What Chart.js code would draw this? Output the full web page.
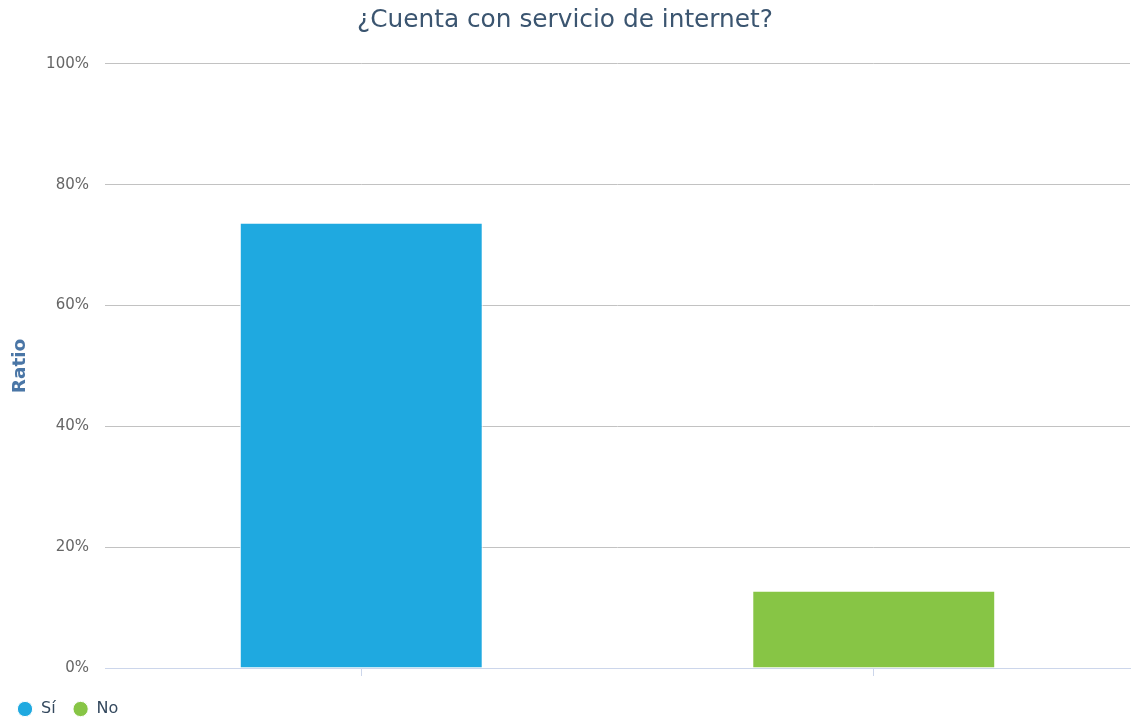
<!DOCTYPE html>
<html>
<head>
<meta charset="utf-8">
<script src="https://cdn.jsdelivr.net/npm/chart.js@4.4.1/dist/chart.umd.min.js"></script>
<style>
  html, body { margin: 0; padding: 0; background: #ffffff; }
  #wrap { position: relative; width: 1132px; height: 719px; }
</style>
</head>
<body>
<div id="wrap"><canvas id="c" width="1132" height="719"></canvas></div>
<script>
const chartTitle = '¿Cuenta con servicio de internet?';
const categories = ['Sí', 'No'];
const siValues = [73.7, null];
const noValues = [null, 12.8];
const yTickValues = [0, 20, 40, 60, 80, 100];
const yAxisTitle = 'Ratio';

const FONT = "'DejaVu Sans', sans-serif";

const ctx = document.getElementById('c').getContext('2d');
new Chart(ctx, {
  type: 'bar',
  data: {
    labels: categories,
    datasets: [
      { label: categories[0], data: siValues, backgroundColor: '#1fa9e0', borderColor: '#ffffff', borderWidth: 1, skipNull: true },
      { label: categories[1], data: noValues, backgroundColor: '#87c545', borderColor: '#ffffff', borderWidth: 1, skipNull: true }
    ]
  },
  options: {
    responsive: false,
    animation: false,
    devicePixelRatio: 1,
    layout: { padding: { left: 0, right: 2, top: 0, bottom: -8 } },
    datasets: { bar: { categoryPercentage: 1, barPercentage: 0.474 } },
    plugins: {
      title: {
        display: true,
        text: chartTitle,
        color: '#3b5570',
        font: { family: FONT, size: 24.8, weight: 'normal' },
        padding: { top: 6, bottom: 28.2 }
      },
      legend: {
        display: true,
        position: 'bottom',
        align: 'start',
        labels: {
          usePointStyle: true,
          pointStyle: 'circle',
          boxWidth: 16,
          boxHeight: 10.8,
          color: '#34495e',
          font: { family: FONT, size: 16 },
          padding: 17
        }
      },
      tooltip: { enabled: false }
    },
    scales: {
      x: {
        grid: {
          offset: false,
          drawOnChartArea: false,
          drawTicks: true,
          tickLength: 8,
          color: '#ccd6eb'
        },
        border: { display: true, color: '#ccd6eb', width: 1 },
        ticks: { display: false },
        afterFit: (s) => { s.height = 16; }
      },
      y: {
        min: 0,
        max: 100,
        afterBuildTicks: (s) => { s.ticks = yTickValues.map(v => ({ value: v })); },
        grid: {
          drawTicks: false,
          color: (c) => (c.tick && c.tick.value === 0) ? '#ccd6eb' : '#c2c2c2',
          lineWidth: 1
        },
        border: { display: false },
        ticks: {
          padding: 16,
          color: '#666666',
          font: { family: FONT, size: 15 },
          callback: (v) => v + '%'
        },
        title: {
          display: true,
          text: yAxisTitle,
          color: '#4a76a6',
          font: { family: FONT, size: 18.5, weight: 'bold' },
          padding: { top: 9, bottom: 0 }
        },
        afterFit: (s) => { s.width = 105; }
      }
    }
  }
});
</script>
</body>
</html>
